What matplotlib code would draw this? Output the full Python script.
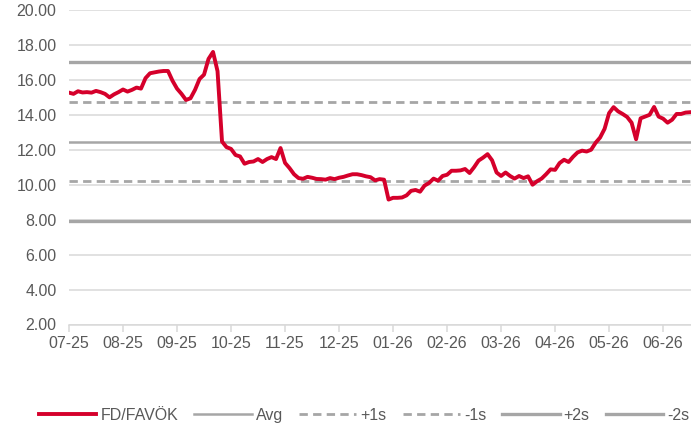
import numpy as np
import matplotlib
matplotlib.use("Agg")
import matplotlib.pyplot as plt

# FD/FAVÖK multiple, sampled ~12 points per month from 07-25 onwards
fd_favok = [
    15.27, 15.20, 15.35, 15.28, 15.30, 15.27, 15.37, 15.30, 15.20, 15.00, 15.17, 15.30,
    15.45, 15.33, 15.43, 15.56, 15.50, 16.10, 16.38, 16.43, 16.48, 16.51, 16.51, 15.95,
    15.50, 15.20, 14.85, 14.95, 15.43, 16.05, 16.30, 17.20, 17.60, 16.50, 12.47, 12.15,
    12.05, 11.70, 11.62, 11.20, 11.30, 11.33, 11.47, 11.30, 11.47, 11.58, 11.47, 12.10,
    11.25, 10.95, 10.60, 10.38, 10.34, 10.45, 10.40, 10.33, 10.32, 10.29, 10.38, 10.32,
    10.40, 10.45, 10.53, 10.60, 10.60, 10.55, 10.48, 10.43, 10.25, 10.32, 10.29, 9.15,
    9.25, 9.25, 9.27, 9.39, 9.65, 9.70, 9.60, 9.95, 10.10, 10.35, 10.23, 10.50,
    10.57, 10.80, 10.80, 10.82, 10.90, 10.67, 11.00, 11.38, 11.55, 11.75, 11.40, 10.70,
    10.50, 10.70, 10.50, 10.35, 10.50, 10.38, 10.48, 10.00, 10.20, 10.35, 10.60, 10.88,
    10.85, 11.24, 11.43, 11.30, 11.60, 11.85, 11.95, 11.90, 12.00, 12.40, 12.70, 13.20,
    14.10, 14.44, 14.20, 14.05, 13.88, 13.55, 12.60, 13.80, 13.90, 14.00, 14.45, 13.90,
    13.78, 13.55, 13.72, 14.05, 14.05, 14.13, 14.15,
]
points_per_month = 12
month_labels = ["07-25", "08-25", "09-25", "10-25", "11-25", "12-25",
                "01-26", "02-26", "03-26", "04-26", "05-26", "06-26"]

avg = 12.47
sd = 2.28
bands = [("Avg", avg, "-", 1.8), ("+1s", avg + sd, "--", 2.0), ("-1s", avg - sd, "--", 2.0),
         ("+2s", avg + 2 * sd, "-", 2.4), ("-2s", avg - 2 * sd, "-", 2.4)]

RED = "#D5002B"
GRAY = "#A6A6A6"
GRID = "#D9D9D9"
TXT = "#595959"

plt.rcParams["font.family"] = ["Liberation Sans", "DejaVu Sans"]

fig = plt.figure(figsize=(6.91, 4.28), dpi=100)
ax = fig.add_axes([69 / 691, 1 - 324.5 / 428, 622 / 691, 314.5 / 428])

x = np.arange(len(fd_favok))
ax.plot(x, fd_favok, color=RED, lw=2.8, solid_joinstyle="round", label="FD/FAVÖK", zorder=5)
for name, val, ls, lw in bands:
    line = ax.axhline(val, color=GRAY, lw=lw, ls=ls, label=name, zorder=3)
    if ls == "--":
        line.set_dashes((3, 1.9))

ax.set_ylim(2, 20)
ax.set_yticks(np.arange(2, 21, 2))
ax.set_yticklabels([f"{v:.2f}" for v in np.arange(2, 21, 2)])
ax.set_xlim(0, 138.2)
ticks = np.arange(len(month_labels)) * points_per_month
ax.set_xticks(ticks)
ax.set_xticklabels(month_labels)

ax.grid(axis="y", color=GRID, lw=1.1, zorder=0)
for s in ["left", "right", "top"]:
    ax.spines[s].set_visible(False)
ax.spines["bottom"].set_color(GRID)
ax.spines["bottom"].set_linewidth(1.1)
ax.tick_params(axis="y", length=0, pad=9, labelsize=11.5, labelcolor=TXT)
ax.tick_params(axis="x", length=5, width=1.1, color=GRID, pad=3.5, labelsize=11.5, labelcolor=TXT)

leg = ax.legend(loc="center", bbox_to_anchor=(0.527, 0.03), bbox_transform=fig.transFigure,
                ncol=6, frameon=False, fontsize=11.5, handlelength=3.6, handletextpad=0.25,
                columnspacing=1.0, labelcolor=TXT)

fig.savefig("out.png", dpi=100)
